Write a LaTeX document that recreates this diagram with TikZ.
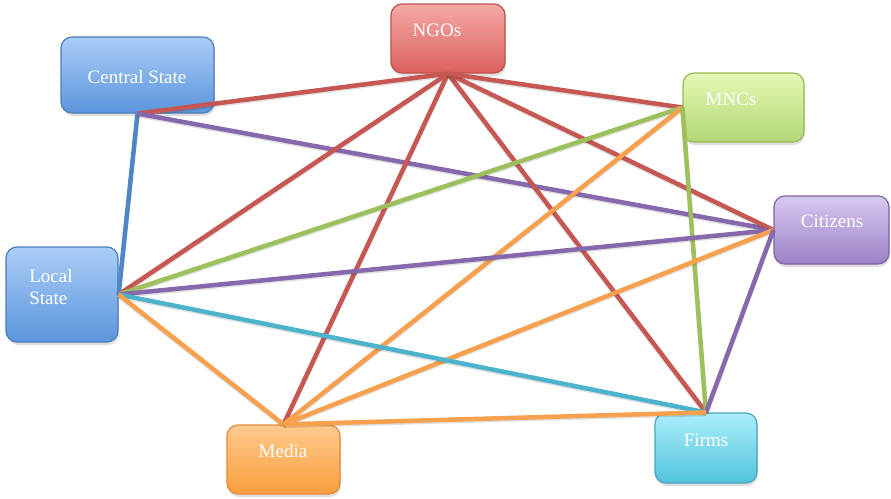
\documentclass[tikz,border=0pt]{standalone}
\usepackage{fontspec}
\setmainfont{Liberation Serif}
\usetikzlibrary{shadows}

\definecolor{redline}{HTML}{C65753}
\definecolor{blueline}{HTML}{4F86C6}
\definecolor{greenline}{HTML}{9DC05C}
\definecolor{purpleline}{HTML}{8868AC}
\definecolor{orangeline}{HTML}{F7A04E}
\definecolor{cyanline}{HTML}{4DB3CC}

\begin{document}
\begin{tikzpicture}[x=1pt,y=-1pt,
  actor/.style={draw,line width=1.2pt,rounded corners=11pt,inner sep=0pt,
    drop shadow={shadow xshift=1pt,shadow yshift=-3pt,opacity=0.25}},
  red box/.style={actor,draw={rgb,255:red,192;green,80;blue,77},
    top color={rgb,255:red,245;green,169;blue,166},bottom color={rgb,255:red,219;green,97;blue,93}},
  blue box/.style={actor,draw={rgb,255:red,74;green,126;blue,187},
    top color={rgb,255:red,171;green,205;blue,247},bottom color={rgb,255:red,91;green,149;blue,220}},
  green box/.style={actor,draw={rgb,255:red,152;green,185;blue,84},
    top color={rgb,255:red,228;green,248;blue,181},bottom color={rgb,255:red,178;green,216;blue,116}},
  purple box/.style={actor,draw={rgb,255:red,126;green,98;blue,161},
    top color={rgb,255:red,215;green,200;blue,240},bottom color={rgb,255:red,156;green,130;blue,198}},
  orange box/.style={actor,draw={rgb,255:red,229;green,137;blue,58},
    top color={rgb,255:red,255;green,203;blue,142},bottom color={rgb,255:red,249;green,158;blue,60}},
  cyan box/.style={actor,draw={rgb,255:red,70;green,165;blue,190},
    top color={rgb,255:red,171;green,238;blue,251},bottom color={rgb,255:red,81;green,195;blue,220}},
  actor text/.style={text=white,font=\fontsize{19}{22}\selectfont,inner sep=0pt},
  link/.style={line width=4.5pt,
    preaction={draw=black,opacity=0.12,line width=4.5pt,transform canvas={yshift=-1.5pt}}}]

\useasboundingbox (0,0) rectangle (891,498);

% Actors
\node[red box,minimum width=114pt,minimum height=69pt] (ngos) at (448,38.5) {};
\node[blue box,minimum width=153pt,minimum height=76pt] (central) at (137.5,75) {};
\node[green box,minimum width=121pt,minimum height=69pt] (mncs) at (743.5,107.5) {};
\node[purple box,minimum width=115pt,minimum height=68pt] (citizens) at (831.5,230) {};
\node[blue box,minimum width=112pt,minimum height=95pt] (local) at (62,294.5) {};
\node[orange box,minimum width=113pt,minimum height=69pt] (media) at (283.5,459.5) {};
\node[cyan box,minimum width=102pt,minimum height=70pt] (firms) at (706,448) {};

% Labels
\node[actor text] (ngostext) at (437,30) {NGOs};
\node[actor text] (centraltext) at (137,77) {Central State};
\node[actor text] (mncstext) at (731,99) {MNCs};
\node[actor text] (citizenstext) at (832,221) {Citizens};
\node[actor text,align=left] (localtext) at (51,287) {Local\\State};
\node[actor text] (mediatext) at (283,451) {Media};
\node[actor text] (firmstext) at (706,440) {Firms};

% Links
\draw[link,draw=blueline] (central.south) -- (local.east);
\draw[link,draw=redline] (central.south) -- (ngos.south);
\draw[link,draw=purpleline] (central.south) -- (citizens.west);

\draw[link,draw=redline] (ngos.south) -- (local.east);
\draw[link,draw=redline] (ngos.south) -- (media.north);
\draw[link,draw=redline] (ngos.south) -- (firms.north);
\draw[link,draw=redline] (ngos.south) -- (citizens.west);
\draw[link,draw=redline] (ngos.south) -- (mncs.west);

\draw[link,draw=greenline] (mncs.west) -- (local.east);
\draw[link,draw=orangeline] (mncs.west) -- (media.north);
\draw[link,draw=greenline] (mncs.west) -- (firms.north);

\draw[link,draw=purpleline] (citizens.west) -- (local.east);
\draw[link,draw=orangeline] (citizens.west) -- (media.north);
\draw[link,draw=purpleline] (citizens.west) -- (firms.north);

\draw[link,draw=cyanline] (local.east) -- (firms.north);
\draw[link,draw=orangeline] (local.east) -- (media.north);
\draw[link,draw=orangeline] (media.north) -- (firms.north);

\end{tikzpicture}
\end{document}
